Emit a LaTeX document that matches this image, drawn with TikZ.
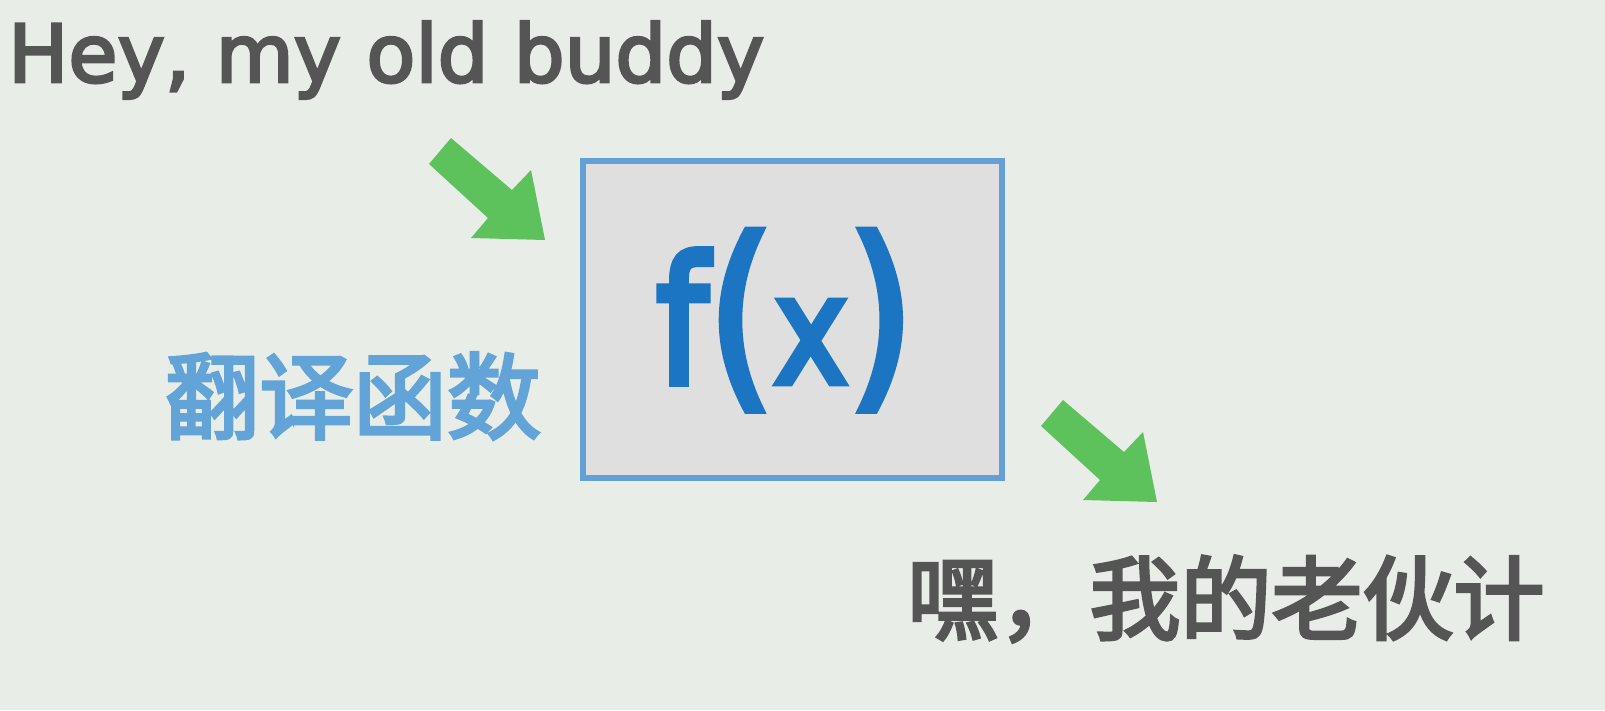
\documentclass[tikz,border=0pt]{standalone}
\usepackage{fontspec}
\setmainfont{DejaVu Sans}
\newfontfamily\latinmed{DejaVu Sans}[FakeBold=3.5]
\newfontfamily\fxfont{DejaVu Sans}[FakeBold=4.5]
\newfontfamily\cjk{Noto Sans CJK SC}[FakeBold=3.5]
\definecolor{bgc}{HTML}{E9EDE8}
\definecolor{boxfill}{HTML}{DEDFDE}
\definecolor{boxline}{HTML}{62A0D6}
\definecolor{fxblue}{HTML}{1B75C2}
\definecolor{lblblue}{HTML}{62A3D8}
\definecolor{txtgray}{HTML}{555555}
\definecolor{arrgreen}{HTML}{5EC25C}
\tikzset{
  greenarrow/.pic={\fill[arrgreen] (-94,-102) -- (-116,-76) -- (-57,-22) -- (-74,-2) -- (0,0) -- (-14,-70) -- (-33,-50) -- cycle;},
  fbox/.style={draw=boxline, line width=6pt, fill=boxfill, minimum width=419pt, minimum height=317pt, inner sep=0pt},
}
\begin{document}
\begin{tikzpicture}[x=1pt,y=-1pt]
\fill[bgc] (0,0) rectangle (1605,710);
\useasboundingbox (0,0) rectangle (1605,710);
\node[fbox, anchor=north west] (box) at (580,158) {};
\node[text=fxblue, font=\fxfont, xscale=0.84, inner sep=0pt, anchor=base] (fx) at (785,383) {{\fontsize{175}{175}\selectfont f}{\fontsize{200}{200}\selectfont (}{\fontsize{150}{150}\selectfont x}{\fontsize{200}{200}\selectfont )}};
\node[text=txtgray, font=\latinmed\fontsize{80}{80}\selectfont, anchor=base west, inner sep=0pt] (en) at (8,82) {Hey, my old buddy};
\node[text=lblblue, font=\cjk\fontsize{94}{94}\selectfont, inner sep=0pt] (fn) at (353,396) {翻译函数};
\node[text=txtgray, font=\cjk\fontsize{91}{91}\selectfont, inner sep=0pt] (zh) at (1226,599) {嘿，我的老伙计};
\pic at (545,240) {greenarrow};
\pic at (1157,502) {greenarrow};
\end{tikzpicture}
\end{document}
